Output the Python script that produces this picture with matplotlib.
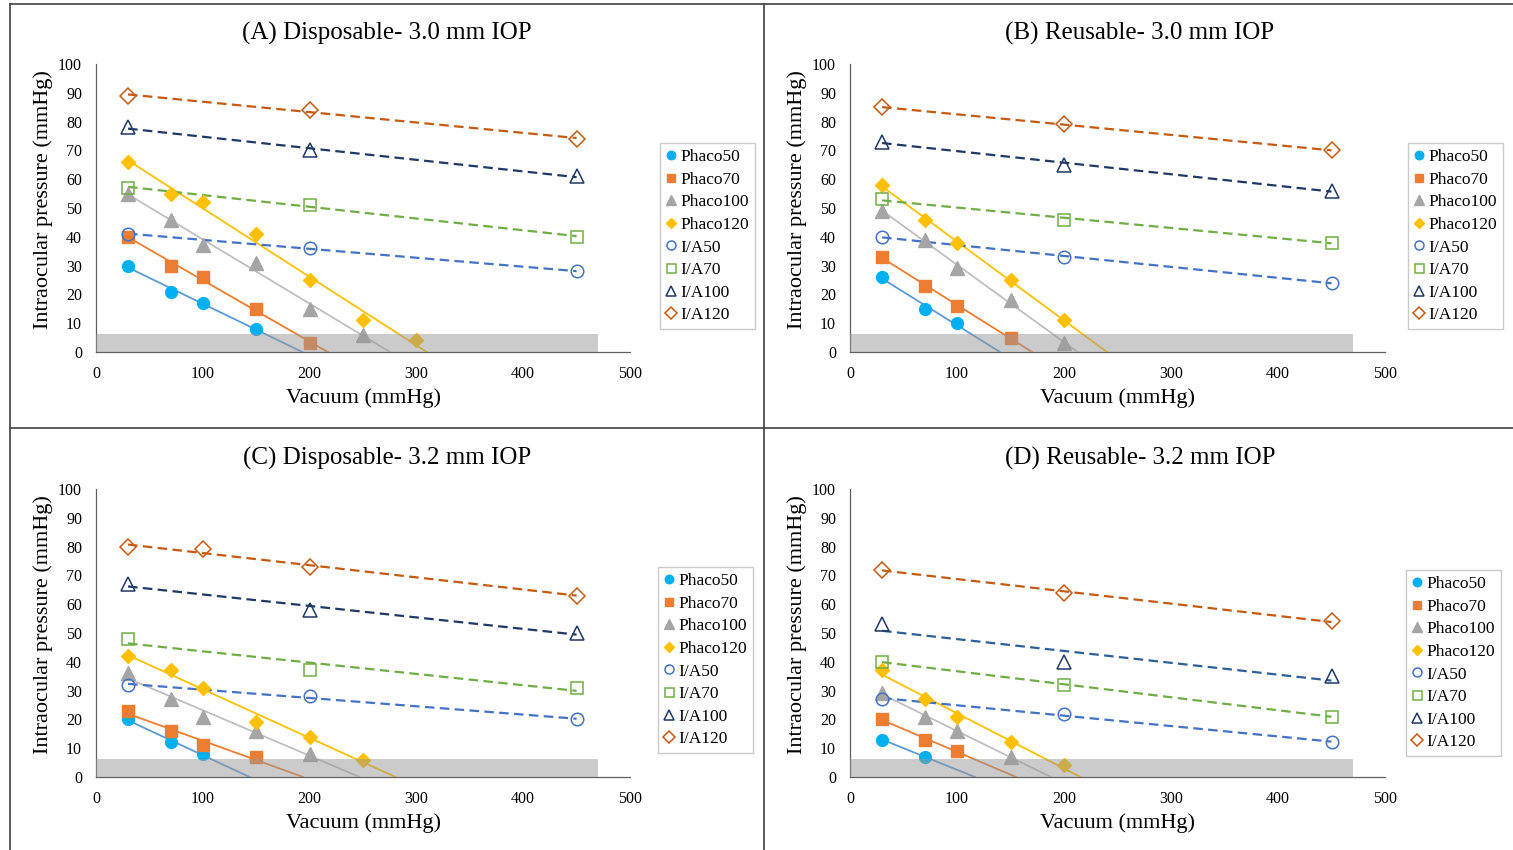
import numpy as np
import matplotlib
matplotlib.use("Agg")
import matplotlib.pyplot as plt
from matplotlib.lines import Line2D

plt.rcParams['font.family'] = ['Liberation Serif', 'DejaVu Serif']

# ---------------- data ----------------
phaco_x = [30, 70, 100, 150, 200, 250, 300]
ia_x = [30, 200, 450]
ia_x_C120 = [30, 100, 200, 450]

titles = ["(A) Disposable- 3.0 mm IOP", "(B) Reusable- 3.0 mm IOP",
          "(C) Disposable- 3.2 mm IOP", "(D) Reusable- 3.2 mm IOP"]
series_names = ["Phaco50", "Phaco70", "Phaco100", "Phaco120",
                "I/A50", "I/A70", "I/A100", "I/A120"]

A_phaco50 = [30, 21, 17, 8]
A_phaco70 = [40, 30, 26, 15, 3]
A_phaco100 = [55, 46, 37, 31, 15, 6]
A_phaco120 = [66, 55, 52, 41, 25, 11, 4]
A_ia50 = [41, 36, 28]
A_ia70 = [57, 51, 40]
A_ia100 = [78, 70, 61]
A_ia120 = [89, 84, 74]

B_phaco50 = [26, 15, 10]
B_phaco70 = [33, 23, 16, 5]
B_phaco100 = [49, 39, 29, 18, 3]
B_phaco120 = [58, 46, 38, 25, 11]
B_ia50 = [40, 33, 24]
B_ia70 = [53, 46, 38]
B_ia100 = [73, 65, 56]
B_ia120 = [85, 79, 70]

C_phaco50 = [20, 12, 8]
C_phaco70 = [23, 16, 11, 7]
C_phaco100 = [36, 27, 21, 16, 8]
C_phaco120 = [42, 37, 31, 19, 14, 6]
C_ia50 = [32, 28, 20]
C_ia70 = [48, 37, 31]
C_ia100 = [67, 58, 50]
C_ia120 = [80, 79, 73, 63]

D_phaco50 = [13, 7]
D_phaco70 = [20, 13, 9]
D_phaco100 = [29, 21, 16, 7]
D_phaco120 = [37, 27, 21, 12, 4]
D_ia50 = [27, 22, 12]
D_ia70 = [40, 32, 21]
D_ia100 = [53, 40, 35]
D_ia120 = [72, 64, 54]

# shaded zone (vacuum range, pressure threshold)
band_x = [0, 470]
band_y = 6.4

x_ticks = [0, 100, 200, 300, 400, 500]
y_ticks = [0, 10, 20, 30, 40, 50, 60, 70, 80, 90, 100]

# ---------------- styles ----------------
marker_col = ['#00B0F0', '#ED7D31', '#A5A5A5', '#FFC000',
              '#4472C4', '#70AD47', '#1F3864', '#C55A11']
line_col = ['#5B9BD5', '#ED7D31', '#BFBFBF', '#FFC000',
            '#4472C4', '#70AD47', '#1F3864', '#C55A11']
markers = ['o', 's', '^', 'D', 'o', 's', '^', 'D']
msizes = [8.5, 8.5, 9.5, 7.5, 8.5, 8.5, 9.5, 7.5]

W, H = 1513, 850
fig = plt.figure(figsize=(W / 100, H / 100), dpi=100)

panels = [
    dict(phaco=[A_phaco50, A_phaco70, A_phaco100, A_phaco120],
         ia=[A_ia50, A_ia70, A_ia100, A_ia120],
         iax=[ia_x, ia_x, ia_x, ia_x],
         ax=(96, 630, 64, 352), leg=(660, 143), tcx=387, ty=33),
    dict(phaco=[B_phaco50, B_phaco70, B_phaco100, B_phaco120],
         ia=[B_ia50, B_ia70, B_ia100, B_ia120],
         iax=[ia_x, ia_x, ia_x, ia_x],
         ax=(850, 1385, 64, 352), leg=(1408, 143), tcx=1140, ty=33),
    dict(phaco=[C_phaco50, C_phaco70, C_phaco100, C_phaco120],
         ia=[C_ia50, C_ia70, C_ia100, C_ia120],
         iax=[ia_x, ia_x, ia_x, ia_x_C120],
         ax=(96, 630, 489, 777), leg=(658, 567), tcx=387, ty=458),
    dict(phaco=[D_phaco50, D_phaco70, D_phaco100, D_phaco120],
         ia=[D_ia50, D_ia70, D_ia100, D_ia120],
         iax=[ia_x, ia_x, ia_x, ia_x],
         ax=(850, 1385, 489, 777), leg=(1406, 570), tcx=1140, ty=458),
]

for pi, p in enumerate(panels):
    l, r, t, b = p['ax']
    ax = fig.add_axes([l / W, 1 - b / H, (r - l) / W, (b - t) / H])
    ax.set_xlim(0, 500)
    ax.set_ylim(0, 100)
    for s in ['top', 'right']:
        ax.spines[s].set_visible(False)
    ax.spines['left'].set_color('#606060')
    ax.spines['bottom'].set_color('#606060')
    ax.spines['left'].set_linewidth(0.9)
    ax.spines['bottom'].set_linewidth(0.9)
    ax.set_xticks(x_ticks)
    ax.set_yticks(y_ticks)
    ax.tick_params(axis='both', length=0, labelsize=11.5, colors='black')
    ax.tick_params(axis='y', pad=10)
    ax.tick_params(axis='x', pad=10)
    ax.set_xlabel("Vacuum (mmHg)", fontsize=16)
    ax.xaxis.set_label_coords(0.5, -0.125)
    ax.set_ylabel("Intraocular pressure (mmHg)", fontsize=16)
    ax.yaxis.set_label_coords(-0.08, 0.53)

    handles = []
    # phaco series: markers + solid linear trendlines (forecast to 0)
    for i, ys in enumerate(p['phaco']):
        xs = np.array(phaco_x[:len(ys)], dtype=float)
        ys = np.array(ys, dtype=float)
        h, = ax.plot(xs, ys, linestyle='none', marker=markers[i],
                     ms=msizes[i], color=marker_col[i], mec=marker_col[i],
                     zorder=4, label=series_names[i])
        handles.append(h)
        m, c = np.polyfit(xs, ys, 1)
        x0 = -c / m
        xl = np.array([xs[0], x0])
        ax.plot(xl, m * xl + c, color=line_col[i], lw=1.3, zorder=3)
    # I/A series: open markers + dashed linear trendlines
    for j, ys in enumerate(p['ia']):
        i = j + 4
        xs = np.array(p['iax'][j], dtype=float)
        ys = np.array(ys, dtype=float)
        lc = line_col[i]
        if pi == 3 and i == 6:
            lc = '#2F5F98'
        h, = ax.plot(xs, ys, linestyle='none', marker=markers[i],
                     ms=msizes[i] + 0.5, mfc='none', mec=marker_col[i],
                     mew=1.1, zorder=4, label=series_names[i])
        handles.append(h)
        m, c = np.polyfit(xs, ys, 1)
        xl = np.array([xs[0], xs[-1]])
        ax.plot(xl, m * xl + c, color=lc, lw=1.6, zorder=3,
                dashes=(4.3, 2.4))

    # translucent gray band drawn over the marks
    ax.fill_between(band_x, 0, band_y, color='#999999', alpha=0.5,
                    lw=0, zorder=6)

    lx, ly = p['leg']
    leg = fig.legend(handles=handles, loc='upper left',
                     bbox_to_anchor=(lx / W, 1 - ly / H),
                     bbox_transform=fig.transFigure,
                     fontsize=12.5, frameon=True, fancybox=False,
                     edgecolor='#BFBFBF', handlelength=0.6,
                     handletextpad=0.2, labelspacing=0.37,
                     borderpad=0.35, borderaxespad=0, markerscale=0.72)
    leg.get_frame().set_linewidth(1.0)

    fig.text(p['tcx'] / W, 1 - p['ty'] / H, titles[pi], ha='center',
             va='center', fontsize=18)

# panel frame lines
def fline(x0, y0, x1, y1):
    fig.add_artist(Line2D([x0 / W, x1 / W], [1 - y0 / H, 1 - y1 / H],
                          color='#404040', lw=1.2))

fline(10, 4, W, 4)
fline(10, 4, 10, H)
fline(764, 4, 764, H)
fline(10, 428, W, 428)

fig.savefig("out.png", dpi=100)
